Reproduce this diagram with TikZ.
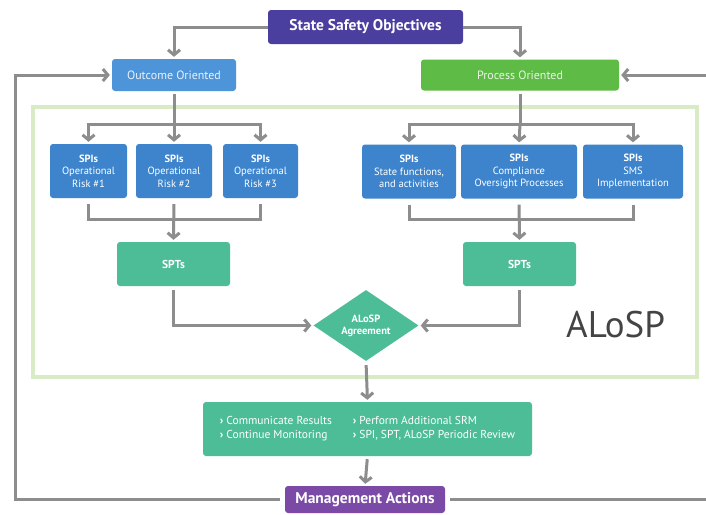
\documentclass[tikz,border=0pt]{standalone}
\usepackage{fontspec}
\setmainfont{PT Sans}
\usetikzlibrary{arrows.meta,shapes.geometric}
\definecolor{ssoC}{HTML}{4A3F9E}
\definecolor{outC}{HTML}{4E94D9}
\definecolor{procC}{HTML}{5DBB46}
\definecolor{spiC}{HTML}{3D84CC}
\definecolor{tealC}{HTML}{4DBD97}
\definecolor{maC}{HTML}{7B4AA6}
\definecolor{frameC}{HTML}{D8EBC4}
\definecolor{lineC}{HTML}{8D8D8D}
\definecolor{textC}{HTML}{444444}
\begin{document}
\begin{tikzpicture}[x=1pt,y=-1pt,
  box/.style={rectangle, rounded corners=3pt, inner sep=0pt, text=white, align=center},
  spibox/.style={box, fill=spiC, minimum height=54pt, font=\fontsize{10.5}{12.5}\selectfont},
  sptbox/.style={box, fill=tealC, minimum width=113pt, minimum height=44pt, font=\bfseries\fontsize{11.5}{13}\selectfont},
  line/.style={draw=lineC, line width=3pt},
  conn/.style={line, -{Straight Barb[length=5pt,width=12pt]}, shorten >=2pt},
]
\useasboundingbox (0,0) rectangle (706,514);
\fill[white] (0,0) rectangle (706,514);
\draw[frameC, line width=4pt, fill=white] (33,107) rectangle (697,377);

% nodes
\node[box, fill=ssoC, minimum width=195pt, minimum height=34pt, font=\bfseries\fontsize{15.5}{17}\selectfont] (sso) at (365.5,27) {State Safety Objectives};
\node[box, fill=outC, minimum width=124pt, minimum height=32pt, text=white!88!outC, font=\fontsize{12}{14}\selectfont] (out) at (174,75) {Outcome Oriented};
\node[box, fill=procC, minimum width=198pt, minimum height=31pt, text=white!85!procC, font=\fontsize{12}{14}\selectfont] (proc) at (520,75) {Process Oriented};

\node[spibox, minimum width=77pt] (s1) at (88.5,171) {\textbf{SPIs}\\Operational\\Risk \#1};
\node[spibox, minimum width=76pt] (s2) at (174,171) {\textbf{SPIs}\\Operational\\Risk \#2};
\node[spibox, minimum width=75pt] (s3) at (260.5,171) {\textbf{SPIs}\\Operational\\Risk \#3};
\node[spibox, minimum width=94pt] (s4) at (409,171.5) {\textbf{SPIs}\\State functions,\\and activities};
\node[spibox, minimum width=116pt] (s5) at (519,171.5) {\textbf{SPIs}\\Compliance\\Oversight Processes};
\node[spibox, minimum width=100pt] (s6) at (633,171.5) {\textbf{SPIs}\\SMS\\Implementation};

\node[sptbox] (spt1) at (173.5,264) {SPTs};
\node[sptbox] (spt2) at (519.5,264) {SPTs};

\node[diamond, fill=tealC, inner sep=0pt, minimum width=105pt, minimum height=65pt, text=white, align=center, font=\bfseries\fontsize{10.5}{12}\selectfont] (dia) at (366,325.5) {ALoSP\\Agreement};

\node[anchor=base west, inner sep=0pt, text=textC, font=\fontsize{37}{42}\selectfont] (alosp) at (566,337) {ALoSP};

\node[box, fill=tealC, minimum width=329pt, minimum height=54pt, align=left, font=\fontsize{11.5}{14}\selectfont] (res) at (367.5,429)
  {\makebox[133pt][l]{\textbf{›} Communicate Results}\textbf{›} Perform Additional SRM\\
   \makebox[133pt][l]{\textbf{›} Continue Monitoring}\textbf{›} SPI, SPT, ALoSP Periodic Review};

\node[box, fill=maC, minimum width=160pt, minimum height=27pt, font=\bfseries\fontsize{15.5}{17}\selectfont] (ma) at (365,499.5) {Management Actions};

% helper coordinates
\coordinate (ob) at (174,124);
\coordinate (pb) at (520,124);
\coordinate (lj) at (174,219);
\coordinate (rj) at (520,219);
\coordinate (lx) at (15,0);
\coordinate (rx) at (716,0);

% connectors
\draw[conn] (sso.west) -| (out.north);
\draw[conn] (sso.east) -| (proc.north);

\draw[line, shorten <=3pt] (out.south) -- (ob);
\draw[conn] (ob) -| (s1.north);
\draw[conn] (ob) -- (s2.north);
\draw[conn] (ob) -| (s3.north);

\draw[line, shorten <=3pt] (proc.south) -- (pb);
\draw[conn] (pb) -| (s4.north);
\draw[conn] (pb) -- (s5.north);
\draw[conn] (pb) -| (s6.north);

\draw[line, shorten <=6pt] (s1.south) |- (lj);
\draw[line, shorten <=6pt] (s3.south) |- (lj);
\draw[conn, shorten <=6pt] (s2.south) -- (spt1.north);

\draw[line, shorten <=6pt] (s4.south) |- (rj);
\draw[line, shorten <=6pt] (s6.south) |- (rj);
\draw[conn, shorten <=6pt] (s5.south) -- (spt2.north);

\draw[conn, shorten <=4pt] (spt1.south) |- (dia.west);
\draw[conn, shorten <=4pt] (spt2.south) |- (dia.east);
\draw[conn, shorten <=4pt] (dia.south) -- (res.north);
\draw[conn, shorten <=3pt] (res.south) -- (ma.north);

\draw[conn, shorten <=5pt] (ma.west) -- (ma.west -| lx) |- (out.west);
\draw[conn, shorten <=5pt] (ma.east) -- (ma.east -| rx) |- (proc.east);
\end{tikzpicture}
\end{document}
